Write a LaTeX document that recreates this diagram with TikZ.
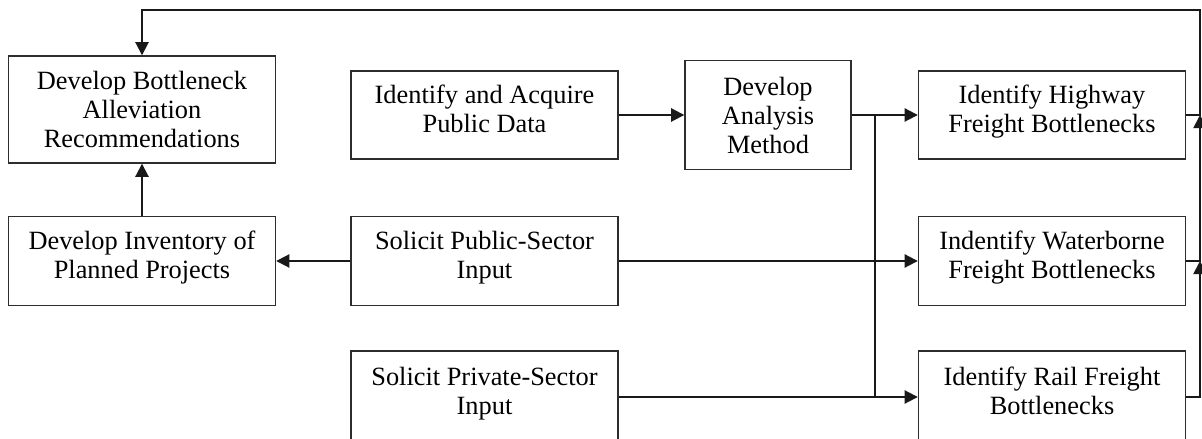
\documentclass[tikz,border=0pt]{standalone}
\usepackage{fontspec}
\setmainfont{Liberation Serif}
\usepackage{tikz}
\usetikzlibrary{positioning, arrows.meta, calc}
\definecolor{LineGray}{RGB}{25,25,25}
\definecolor{BoxGray}{RGB}{45,45,45}

\begin{document}
\begin{tikzpicture}[
          box/.style={rectangle, draw=BoxGray, line width=0.8pt, minimum width=5.34cm,
                      minimum height=1.76cm, font=\fontsize{15}{16.5}\selectfont,
                      align=center, inner sep=2pt},
          twoline/.style={box, text depth=7pt},
          arr/.style={-{Triangle[length=7.5pt, width=7.5pt]}, line width=1.1pt, LineGray},
          ln/.style={line width=1.1pt, LineGray}
        ]
        \useasboundingbox (0,0) rectangle (24.04,8.78);
        \clip (0,0) rectangle (24.04,8.78);

        % Recommendations and inventory
        \node[box, minimum height=2.14cm] (recs) at (2.84, 6.59)
              {Develop Bottleneck\\Alleviation\\Recommendations};
        \node[twoline, minimum height=1.78cm] (inventory) at (2.84, 3.56)
              {Develop Inventory of\\Planned Projects};

        % Data and input
        \node[twoline] (data) at (9.69, 6.48) {Identify and Acquire\\Public Data};
        \node[twoline, minimum height=1.78cm] (pubin) at (9.69, 3.56)
              {Solicit Public-Sector\\Input};
        \node[twoline, minimum height=1.84cm] (privin) at (9.69, 0.84)
              {Solicit Private-Sector\\Input};

        % Analysis method
        \node[box, minimum width=3.32cm, minimum height=2.18cm]
              (method) at (15.36, 6.48) {Develop\\Analysis\\Method};

        % Bottleneck identification
        \node[twoline] (highway) at (21.04, 6.48) {Identify Highway\\Freight Bottlenecks};
        \node[twoline, minimum height=1.78cm] (water) at (21.04, 3.56)
              {Indentify Waterborne\\Freight Bottlenecks};
        \node[twoline, minimum height=1.84cm] (rail) at (21.04, 0.84)
              {Identify Rail Freight\\Bottlenecks};

        \coordinate (split) at (17.5, 6.48);
        \coordinate (back) at (24.0, 8.58);

        \draw[arr] (data) -- (method);
        \draw[arr] (method) -- (highway);
        \draw[arr] (pubin) -- (water);
        \draw[arr] (privin) -- (rail);
        \draw[ln] (split) -- (split |- rail.west);
        \draw[arr] (pubin) -- (inventory);
        \draw[arr] (inventory) -- (recs);

        % Feedback loop
        \draw[arr] (rail.east) -| (water.east -| back);
        \draw[arr] (water.east) -| (highway.east -| back);
        \draw[arr] (highway.east) -| (back) -| (recs.north);
      \end{tikzpicture}
\end{document}
